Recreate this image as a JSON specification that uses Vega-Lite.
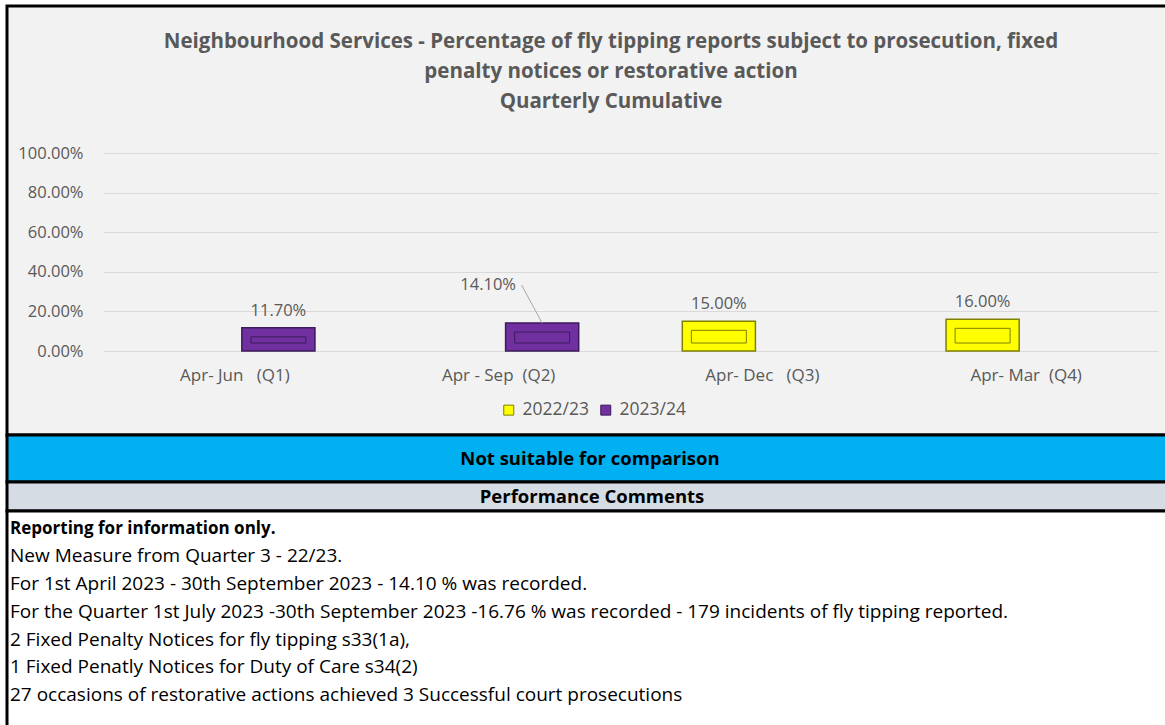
{
  "$schema": "https://vega.github.io/schema/vega-lite/v6.json",
  "padding": {"left": 5, "top": 4, "right": 0, "bottom": 0},
  "background": "white",
  "spacing": 0,
  "bounds": "flush",
  "resolve": {"legend": {"color": "independent", "stroke": "independent"}},
  "config": {"font": "Open Sans"},
  "datasets": {
    "bars": [
      {"quarter": "Apr- Jun\u00a0\u00a0\u00a0(Q1)", "year": "2023/24", "value": 0.117},
      {"quarter": "Apr - Sep\u00a0\u00a0(Q2)", "year": "2023/24", "value": 0.141},
      {"quarter": "Apr- Dec\u00a0\u00a0\u00a0(Q3)", "year": "2022/23", "value": 0.15},
      {"quarter": "Apr- Mar\u00a0\u00a0(Q4)", "year": "2022/23", "value": 0.16}
    ],
    "comments": [
      {"line": 1, "text": "Reporting for information only."},
      {"line": 2, "text": "New Measure from Quarter 3 - 22/23."},
      {"line": 3, "text": "For 1st April 2023 - 30th September 2023 - 14.10 % was recorded."},
      {"line": 4, "text": "For the Quarter 1st July 2023 -30th September 2023 -16.76 % was recorded - 179 incidents of fly tipping reported."},
      {"line": 5, "text": "2 Fixed Penalty Notices for fly tipping s33(1a),"},
      {"line": 6, "text": "1 Fixed Penatly Notices for Duty of Care s34(2)"},
      {"line": 7, "text": "27 occasions of restorative actions achieved 3 Successful court prosecutions"}
    ]
  },
  "vconcat": [
    {
      "width": 1160,
      "height": 429,
      "view": {"fill": "#F2F2F2", "stroke": "#000000", "strokeWidth": 3},
      "title": {
        "text": ["Neighbourhood Services - Percentage of fly tipping reports subject to prosecution, fixed", "penalty notices or restorative action", "Quarterly Cumulative"],
        "fontSize": 20.5,
        "fontWeight": "bold",
        "color": "#595959",
        "lineHeight": 30,
        "offset": -106,
        "anchor": "middle",
        "dx": 24
      },
      "data": {"name": "bars"},
      "encoding": {
        "x": {
          "field": "quarter", "type": "nominal", "sort": null,
          "scale": {"range": [96, 1151], "paddingInner": 0.34, "paddingOuter": 0.17},
          "axis": {"title": null, "labelAngle": 0, "domain": false, "ticks": false, "grid": false, "labelFontSize": 17, "labelColor": "#595959", "labelPadding": 16, "offset": -84}
        },
        "xOffset": {
          "field": "year", "type": "nominal",
          "scale": {"domain": ["2022/23", "2023/24"], "paddingInner": 0.16, "paddingOuter": 0.08}
        },
        "y": {
          "field": "value", "type": "quantitative",
          "scale": {"domain": [0, 1], "range": [345, 147], "nice": false},
          "axis": {"title": null, "format": ".2%", "values": [0, 0.2, 0.4, 0.6, 0.8, 1], "domain": false, "ticks": false, "labelFontSize": 16.5, "labelColor": "#595959", "labelPadding": 10, "offset": -86, "gridColor": "#D9D9D9", "gridWidth": 1}
        }
      },
      "layer": [
        {
          "mark": {"type": "bar", "strokeWidth": 1.5},
          "encoding": {
            "color": {
              "field": "year", "type": "nominal",
              "scale": {"domain": ["2022/23", "2023/24"], "range": ["#FFFF00", "#7030A0"]},
              "legend": {"orient": "none", "legendX": 493, "legendY": 395, "padding": 0, "title": null, "direction": "horizontal", "symbolType": "square", "symbolSize": 100, "symbolStrokeColor": "#404040", "symbolStrokeWidth": 1, "labelFontSize": 17.5, "labelColor": "#595959", "columnPadding": 8, "labelOffset": 5}
            },
            "stroke": {
              "field": "year", "type": "nominal",
              "scale": {"domain": ["2022/23", "2023/24"], "range": ["#7F7F00", "#3D1A5B"]},
              "legend": null
            }
          }
        },
        {
          "mark": {"type": "bar", "fillOpacity": 0, "strokeWidth": 1, "size": 55, "yOffset": 9, "y2Offset": -8},
          "encoding": {
            "y2": {"datum": 0},
            "stroke": {"field": "year", "type": "nominal", "legend": null}
          }
        },
        {
          "transform": [{"filter": "datum.value != 0.141"}],
          "mark": {"type": "text", "baseline": "bottom", "dy": -9, "fontSize": 16.5, "color": "#595959"},
          "encoding": {"text": {"field": "value", "type": "quantitative", "format": ".2%"}}
        },
        {
          "transform": [{"filter": "datum.value == 0.141"}],
          "mark": {"type": "text", "baseline": "bottom", "dx": -54, "dy": -30, "fontSize": 16.5, "color": "#595959"},
          "encoding": {"text": {"field": "value", "type": "quantitative", "format": ".2%"}}
        },
        {
          "transform": [{"filter": "datum.value == 0.141"}],
          "mark": {"type": "rule", "color": "#A6A6A6", "strokeWidth": 1, "x2Offset": 23, "y2Offset": -38},
          "encoding": {
            "x2": {"field": "quarter"},
            "y2": {"field": "value"}
          }
        }
      ]
    },
    {
      "width": 1160,
      "height": 47,
      "view": {"fill": "#00B0F0", "stroke": "#000000", "strokeWidth": 3},
      "data": {"values": [{"label": "Not suitable for comparison"}]},
      "mark": {"type": "text", "fontWeight": "bold", "fontSize": 18.5, "color": "#000000", "dx": 3},
      "encoding": {"text": {"field": "label", "type": "nominal"}}
    },
    {
      "width": 1160,
      "height": 29,
      "view": {"fill": "#D6DCE4", "stroke": "#000000", "strokeWidth": 3},
      "data": {"values": [{"label": "Performance Comments"}]},
      "mark": {"type": "text", "fontWeight": "bold", "fontSize": 18.5, "color": "#000000", "dx": 5},
      "encoding": {"text": {"field": "label", "type": "nominal"}}
    },
    {
      "width": 1160,
      "height": 229,
      "view": {"fill": "#FFFFFF", "stroke": "#000000", "strokeWidth": 3},
      "data": {"name": "comments"},
      "encoding": {
        "x": {"datum": 0, "type": "quantitative", "scale": {"domain": [0, 1]}, "axis": null},
        "y": {"field": "line", "type": "quantitative", "scale": {"domain": [0.36, 8.627], "reverse": true, "zero": false, "nice": false}, "axis": null},
        "text": {"field": "text", "type": "nominal"}
      },
      "layer": [
        {
          "transform": [{"filter": "datum.line == 1"}],
          "mark": {"type": "text", "align": "left", "baseline": "middle", "dx": 3, "fontSize": 17, "fontWeight": "bold", "color": "#000000"}
        },
        {
          "transform": [{"filter": "datum.line > 1"}],
          "mark": {"type": "text", "align": "left", "baseline": "middle", "dx": 3, "fontSize": 19, "color": "#000000"}
        }
      ]
    }
  ]
}
